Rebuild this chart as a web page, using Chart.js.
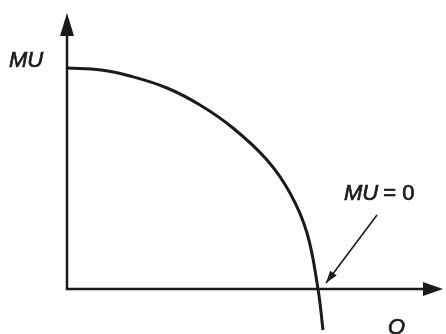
<!DOCTYPE html>
<html>
<head>
<meta charset="utf-8">
<script src="https://cdn.jsdelivr.net/npm/chart.js@4"></script>
<style>
  html, body { margin: 0; padding: 0; background: #fff; }
  canvas { display: block; }
</style>
</head>
<body>
<canvas id="chart" width="446" height="334"></canvas>
<script>
// quantity consumed and marginal utility
const qValues = [0, 3.4, 6.3, 10.0, 13.3, 16.6, 20.0, 22.3, 24.0, 25.1, 25.6];
const muValues = [22.1, 21.9, 21.3, 20.1, 18.4, 16.1, 12.9, 9.6, 5.6, 0, -4.1];

const yLabel = "MU";
const xLabel = "Q";
const zeroLabel = " = 0";

const ink = "#1a1a1a";

// thicker text like the scanned original
function heavyText(ctx, text, x, y) {
  ctx.lineWidth = 0.7;
  ctx.strokeText(text, x, y);
  ctx.fillText(text, x, y);
}

// axes, arrows and labels drawn in data space
const axesPlugin = {
  id: "axes",
  beforeDatasetsDraw(chart) {
    const { ctx, scales: { x, y } } = chart;
    const px = v => x.getPixelForValue(v);
    const py = v => y.getPixelForValue(v);
    ctx.save();
    ctx.strokeStyle = ink;
    ctx.fillStyle = ink;
    ctx.lineWidth = 2.5;
    ctx.beginPath();
    ctx.moveTo(px(0), py(26));
    ctx.lineTo(px(0), py(0));
    ctx.lineTo(px(36.2), py(0));
    ctx.stroke();
    // y arrow
    ctx.beginPath();
    ctx.moveTo(px(0), py(27.6));
    ctx.lineTo(px(0) - 7, py(25.3));
    ctx.lineTo(px(0) + 7, py(25.3));
    ctx.closePath();
    ctx.fill();
    // x arrow
    ctx.beginPath();
    ctx.moveTo(px(37.6), py(0));
    ctx.lineTo(px(35.6), py(0) - 7);
    ctx.lineTo(px(35.6), py(0) + 7);
    ctx.closePath();
    ctx.fill();
    ctx.restore();
  },
  afterDraw(chart) {
    const { ctx, scales: { x, y } } = chart;
    const px = v => x.getPixelForValue(v);
    const py = v => y.getPixelForValue(v);
    ctx.save();
    ctx.fillStyle = ink;
    ctx.strokeStyle = ink;
    ctx.textBaseline = "alphabetic";

    ctx.font = "italic 22px 'Liberation Sans', Arial, sans-serif";
    heavyText(ctx, yLabel, 9, 67);
    heavyText(ctx, xLabel, 388, 334);

    // MU = 0 note
    heavyText(ctx, yLabel, 344, 200);
    const w = ctx.measureText(yLabel).width;
    ctx.font = "22px 'Liberation Sans', Arial, sans-serif";
    heavyText(ctx, zeroLabel, 343 + w, 200);

    // pointer arrow
    const x1 = px(31.0), y1 = py(7.4);
    const x2 = px(25.9), y2 = py(0.6);
    ctx.lineWidth = 1.6;
    ctx.beginPath();
    ctx.moveTo(x1, y1);
    ctx.lineTo(x2, y2);
    ctx.stroke();
    const ang = Math.atan2(y2 - y1, x2 - x1);
    const len = 13, half = 0.32;
    ctx.beginPath();
    ctx.moveTo(x2, y2);
    ctx.lineTo(x2 - len * Math.cos(ang - half), y2 - len * Math.sin(ang - half));
    ctx.lineTo(x2 - len * Math.cos(ang + half), y2 - len * Math.sin(ang + half));
    ctx.closePath();
    ctx.fill();
    ctx.restore();
  }
};

new Chart(document.getElementById("chart"), {
  type: "line",
  data: {
    datasets: [{
      data: qValues.map((q, i) => ({ x: q, y: muValues[i] })),
      borderColor: ink,
      borderWidth: 3,
      pointRadius: 0,
      fill: false,
      tension: 0.4
    }]
  },
  options: {
    responsive: false,
    animation: false,
    layout: { padding: 0 },
    plugins: { legend: { display: false }, tooltip: { enabled: false } },
    scales: {
      x: { type: "linear", min: -6.7, max: 37.9, display: false },
      y: { type: "linear", min: -4.5, max: 28.9, display: false }
    }
  },
  plugins: [axesPlugin]
});
</script>
</body>
</html>
